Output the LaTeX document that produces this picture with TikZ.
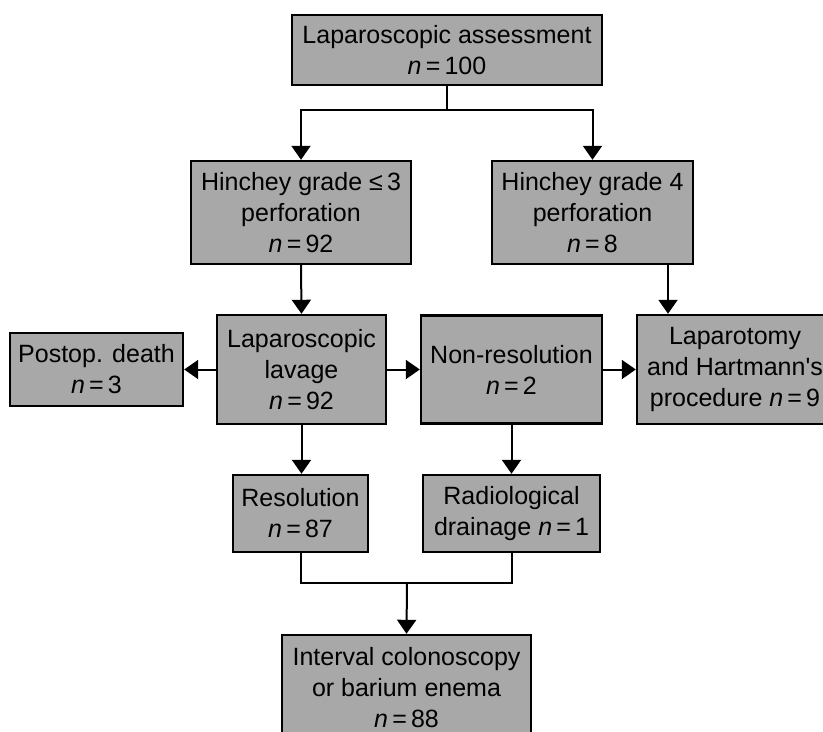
\documentclass[tikz,border=0pt]{standalone}
\usepackage{fontspec}
\setmainfont{Liberation Sans}
\usetikzlibrary{arrows.meta}
\definecolor{boxgray}{RGB}{168,168,168}

\begin{document}
\begin{tikzpicture}[x=0.5pt,y=-0.5pt,
    box/.style={draw=black,line width=1.2pt,fill=boxgray,align=center,
      inner sep=0pt,font=\fontsize{12.5}{15.5}\selectfont},
    arr/.style={line width=1pt,-{Triangle[length=7pt,width=9.5pt]}},
    joinline/.style={line width=1pt}]

  \path[use as bounding box,clip] (0,0) rectangle (823,732);
  \fill[white] (0,0) rectangle (823,732);

  % assessment
  \node[box,minimum width=155pt,minimum height=35pt] (assess) at (447,50)
    {Laparoscopic assessment\\\textit{n}\,=\,100};

  % Hinchey grades
  \node[box,minimum width=110pt,minimum height=51.5pt] (hle3) at (301,212.5)
    {Hinchey grade ≤\,3\\perforation\\\textit{n}\,=\,92};
  \node[box,minimum width=100.5pt,minimum height=51.5pt] (hfour) at (592.5,212.5)
    {Hinchey grade 4\\perforation\\\textit{n}\,=\,8};

  % middle row
  \node[box,minimum width=86.5pt,minimum height=36.5pt] (death) at (96.5,369.5)
    {Postop. death\\\textit{n}\,=\,3};
  \node[box,minimum width=84.5pt,minimum height=54.5pt] (lavage) at (301.5,369.5)
    {Laparoscopic\\lavage\\\textit{n}\,=\,92};
  \node[box,minimum width=90.5pt,minimum height=54pt] (nonres) at (511.5,369.5)
    {Non-resolution\\\textit{n}\,=\,2};
  \node[box,minimum width=98pt,minimum height=54.5pt] (hartmann) at (735,369.5)
    {Laparotomy\\and Hartmann\textquotesingle s\\procedure \textit{n}\,=\,9};

  % lower row
  \node[box,minimum width=67.5pt,minimum height=38.5pt] (resol) at (300.5,513.5)
    {Resolution\\\textit{n}\,=\,87};
  \node[box,minimum width=88.5pt,minimum height=38.5pt] (drain) at (511.5,513.5)
    {Radiological\\drainage \textit{n}\,=\,1};

  % follow up
  \node[box,minimum width=124.5pt,minimum height=53pt] (interval) at (406.5,688)
    {Interval colonoscopy\\or barium enema\\\textit{n}\,=\,88};

  % connectors
  \coordinate (split) at (447,110);
  \coordinate (hfourout) at (668,264);
  \coordinate (merge) at (407,583);

  \draw[joinline] (assess.south) -- (split);
  \draw[arr] (split) -| (hle3.north);
  \draw[arr] (split) -| (hfour.north);
  \draw[arr] (hle3.south) -- (lavage.north);
  \draw[arr] (hfourout) -- (hfourout |- hartmann.north);
  \draw[arr] (lavage.west) -- (death.east);
  \draw[arr] (lavage.east) -- (nonres.west);
  \draw[arr] (nonres.east) -- (hartmann.west);
  \draw[arr] (lavage.south) -- (lavage.south |- resol.north);
  \draw[arr] (nonres.south) -- (drain.north);
  \draw[joinline] (resol.south) |- (merge) -| (drain.south);
  \draw[arr] (merge) -- (interval.north);
\end{tikzpicture}
\end{document}
